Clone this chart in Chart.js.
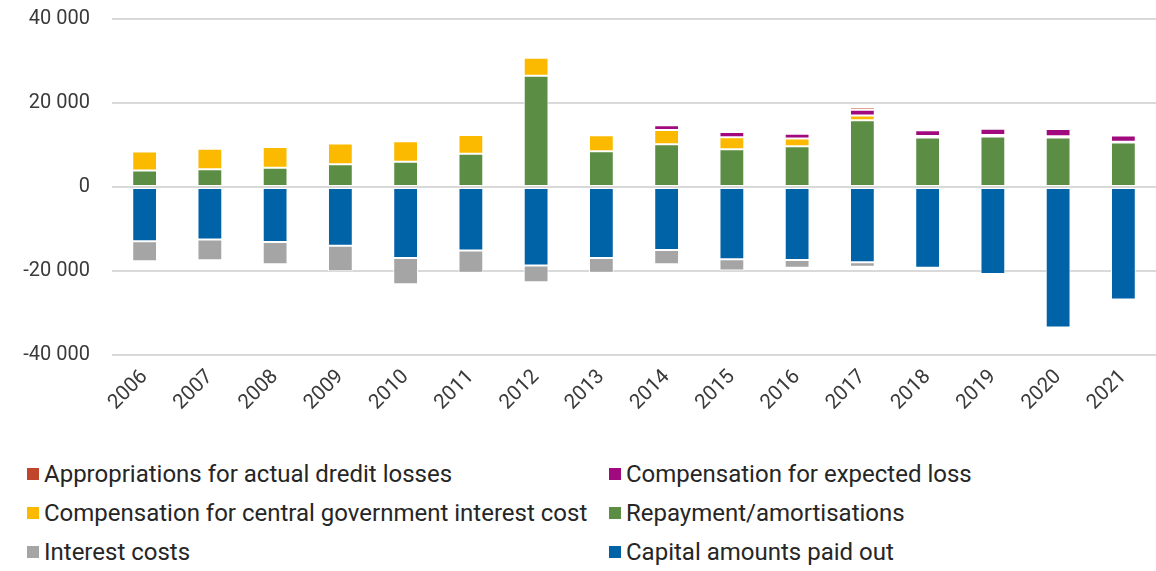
<!DOCTYPE html>
<html>
<head>
<meta charset="utf-8">
<script src="https://cdn.jsdelivr.net/npm/chart.js@4"></script>
<style>
  body { margin: 0; background: #fff; font-family: Roboto, sans-serif; }
  #wrap { position: relative; width: 1156px; height: 460px; margin-top: -15px; }
  #legend {
    position: absolute; left: 0; top: 454px; width: 1156px;
    display: grid; grid-template-columns: 609px 547px;
  }
  .item { display: flex; align-items: center; height: 39px; font-size: 24px; color: #262626; white-space: nowrap; }
  .item:nth-child(odd) { padding-left: 27px; }
  .item span.box { width: 12px; height: 12px; margin-right: 5px; flex: none; }
</style>
</head>
<body>
<div id="wrap"><canvas id="grafico"></canvas></div>
<div id="legend"></div>
<script>
// Årlige kontantstrømmer, millioner kroner
const years = ['2006','2007','2008','2009','2010','2011','2012','2013','2014','2015','2016','2017','2018','2019','2020','2021'];

const repayment    = [3900, 4200, 4600, 5400, 6000, 7900, 26500, 8500, 10200, 9000, 9700, 15900, 11800, 12000, 11800, 10600];
const interestComp = [4550, 4900, 4900, 4950, 4900, 4500, 4250, 3800, 3400, 2850, 1850, 1150, 350, 400, 300, 150];
const expectedLoss = [0, 0, 0, 0, 0, 0, 0, 0, 1100, 1250, 1100, 1350, 1350, 1450, 1700, 1500];
const creditLosses = [0, 0, 0, 0, 0, 0, 0, 0, 150, 200, 450, 600, 400, 350, 150, 150];
const capitalPaid  = [-12900, -12500, -13100, -14000, -16900, -15100, -18700, -16900, -15000, -17200, -17400, -17900, -19250, -20700, -33450, -26800];
const interestCost = [-4800, -4950, -5300, -6050, -6250, -5300, -3950, -3500, -3400, -2700, -1800, -1100, -200, -250, -300, 0];

const yTicks = [-40000, -20000, 0, 20000, 40000];

const colors = {
  red: '#C0452B', purple: '#A10A7E', yellow: '#FBBA00',
  green: '#5B8D45', grey: '#A5A5A5', blue: '#0062A7'
};

function bar(label, data, color) {
  return { label, data, backgroundColor: color, borderColor: '#fff', borderWidth: 1,
           borderSkipped: false, categoryPercentage: 1, barPercentage: 0.38 };
}

// stabling: positive fra null og opp, negative fra null og ned
const datasets = [
  bar('Repayment/amortisations', repayment, colors.green),
  bar('Capital amounts paid out', capitalPaid, colors.blue),
  bar('Compensation for central government interest cost', interestComp, colors.yellow),
  bar('Interest costs', interestCost, colors.grey),
  bar('Compensation for expected loss', expectedLoss, colors.purple),
  bar('Appropriations for actual dredit losses', creditLosses, colors.red)
];

function fmt(v) {
  const s = Math.abs(v).toString().replace(/\B(?=(\d{3})+(?!\d))/g, ' ');
  return (v < 0 ? '-' : '') + s;
}

const chart = new Chart(document.getElementById('grafico'), {
  type: 'bar',
  data: { labels: years, datasets },
  options: {
    responsive: true,
    maintainAspectRatio: false,
    animation: false,
    layout: { padding: { top: 3, right: 0, left: 0, bottom: 0 } },
    plugins: { legend: { display: false }, tooltip: { enabled: false } },
    scales: {
      x: {
        stacked: true,
        grid: { display: false },
        border: { display: false },
        ticks: { color: '#3a3a3a', font: { family: 'Roboto', size: 20.5 }, maxRotation: 45, minRotation: 45, padding: 2 },
        afterFit: s => { s.height = 90; }
      },
      y: {
        stacked: true,
        min: -40000, max: 40000,
        afterBuildTicks: s => { s.ticks = yTicks.map(v => ({ value: v })); },
        grid: { color: '#d9d9d9', lineWidth: 2, drawTicks: false },
        border: { display: false },
        ticks: { color: '#3a3a3a', font: { family: 'Roboto', size: 20 }, padding: 22, callback: v => fmt(v) },
        afterFit: s => { s.width = 112; }
      }
    }
  }
});

// forklaring i to kolonner
const legendOrder = [5, 4, 2, 0, 3, 1];
const legendEl = document.getElementById('legend');
legendOrder.forEach(i => {
  const ds = chart.data.datasets[i];
  const div = document.createElement('div');
  div.className = 'item';
  div.innerHTML = `<span class="box" style="background:${ds.backgroundColor}"></span>${ds.label}`;
  legendEl.appendChild(div);
});
</script>
</body>
</html>
